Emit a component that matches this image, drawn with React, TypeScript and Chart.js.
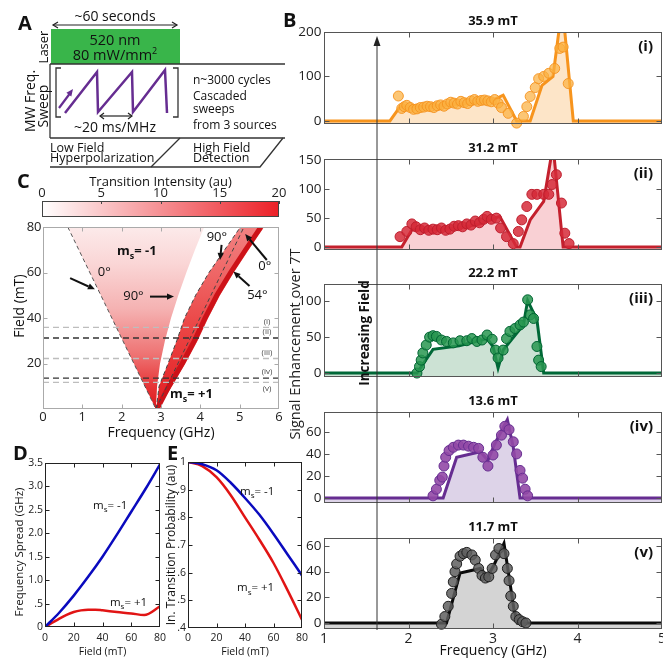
import React, { useEffect, useRef } from 'react';
import { Chart, registerables } from 'chart.js';

Chart.register(...registerables);

const FONT = "'Open Sans', 'DejaVu Sans', sans-serif";
Chart.defaults.font.family = FONT;
Chart.defaults.color = '#222';

// ================= DATA =================
// ---- Panel B : signal enhancement spectra ----
const bTitles = ['35.9 mT', '31.2 mT', '22.2 mT', '13.6 mT', '11.7 mT'];
const bRoman = ['(i)', '(ii)', '(iii)', '(iv)', '(v)'];
const bFreqTicks = [1, 2, 3, 4, 5];
const bYTicks1 = [0, 100, 200];
const bYTicks2 = [0, 50, 100, 150];
const bYTicks3 = [0, 50, 100];
const bYTicks4 = [0, 20, 40, 60];
const bYTicks5 = [0, 20, 40, 60];

const fitFreq1 = [1, 1.78, 1.9, 2.2, 2.5, 2.8, 3.0, 3.12, 3.28, 3.44, 3.58, 3.71, 3.82, 3.95, 5];
const fitVal1 = [0, 0, 32, 33, 36, 40, 47, 58, 0, 0, 80, 100, 260, 0, 0];
const ptFreq1 = [1.88, 1.92, 1.95, 1.98, 2.02, 2.06, 2.1, 2.14, 2.18, 2.22, 2.26, 2.3, 2.34, 2.38, 2.42, 2.46, 2.5, 2.54, 2.58, 2.62, 2.66, 2.7, 2.74, 2.78, 2.82, 2.86, 2.9, 2.94, 2.98, 3.02, 3.06, 3.1, 3.18, 3.28, 3.36, 3.4, 3.44, 3.5, 3.54, 3.6, 3.66, 3.73, 3.79, 3.83, 3.89];
const ptVal1 = [56, 28, 32, 35, 30, 26, 27, 30, 31, 33, 32, 30, 34, 36, 33, 38, 42, 40, 38, 44, 41, 39, 45, 48, 44, 46, 47, 45, 43, 48, 40, 30, 17, -5, 10, 32, 55, 75, 95, 100, 107, 118, 163, 166, 84];

const fitFreq2 = [1, 1.92, 2.04, 2.3, 2.6, 2.85, 3.08, 3.28, 3.32, 3.44, 3.6, 3.71, 3.83, 5];
const fitVal2 = [0, 0, 30, 30, 33, 40, 53, 0, 0, 47, 79, 175, 0, 0];
const ptFreq2 = [1.9, 1.98, 2.04, 2.09, 2.14, 2.19, 2.24, 2.29, 2.34, 2.39, 2.44, 2.49, 2.54, 2.59, 2.64, 2.69, 2.74, 2.79, 2.84, 2.89, 2.93, 2.98, 3.04, 3.09, 3.16, 3.24, 3.3, 3.34, 3.4, 3.46, 3.52, 3.6, 3.66, 3.7, 3.75, 3.81, 3.85, 3.9];
const ptVal2 = [18, 27, 40, 35, 30, 33, 29, 31, 30, 33, 29, 31, 36, 37, 35, 40, 38, 45, 42, 48, 53, 48, 50, 33, 18, 6, 27, 47, 70, 91, 91, 91, 91, 108, 125, 76, 24, 6];

const fitFreq3 = [1, 2.1, 2.29, 2.6, 2.93, 3.0, 3.06, 3.12, 3.36, 3.41, 3.52, 3.6, 5];
const fitVal3 = [0, 0, 33, 38, 48, 37, 7, 32, 67, 101, 74, 0, 0];
const ptFreq3 = [2.1, 2.13, 2.15, 2.17, 2.21, 2.25, 2.29, 2.33, 2.39, 2.45, 2.53, 2.61, 2.69, 2.75, 2.81, 2.87, 2.93, 2.99, 3.03, 3.06, 3.12, 3.16, 3.2, 3.26, 3.32, 3.36, 3.41, 3.44, 3.48, 3.52, 3.54, 3.57];
const ptVal3 = [0, 9, 18, 28, 39, 50, 52, 51, 46, 44, 42, 45, 45, 48, 44, 46, 53, 47, 32, 21, 32, 48, 58, 62, 67, 71, 102, 81, 76, 37, 18, 9];

const fitFreq4 = [1, 2.41, 2.57, 2.85, 2.94, 3.02, 3.17, 3.24, 3.32, 5];
const fitVal4 = [0, 0, 37, 42, 34, 49, 71, 46, 0, 0];
const ptFreq4 = [2.29, 2.33, 2.37, 2.4, 2.42, 2.44, 2.48, 2.53, 2.59, 2.65, 2.71, 2.77, 2.83, 2.88, 2.94, 3.0, 3.04, 3.1, 3.14, 3.19, 3.24, 3.28, 3.32, 3.35, 3.38, 3.41];
const ptVal4 = [2, 8, 16, 19, 29, 37, 43, 46, 48, 48, 47, 46, 45, 37, 29, 39, 48, 57, 65, 62, 51, 40, 25, 18, 8, 2];

const fitFreq5 = [1, 2.45, 2.61, 2.85, 2.93, 3.01, 3.13, 3.25, 3.29, 5];
const fitVal5 = [0, 0, 39, 42.5, 36, 45, 62, 10, 0, 0];
const ptFreq5 = [2.39, 2.43, 2.47, 2.51, 2.53, 2.55, 2.57, 2.61, 2.65, 2.69, 2.75, 2.79, 2.83, 2.87, 2.91, 2.95, 2.99, 3.03, 3.07, 3.13, 3.17, 3.19, 3.21, 3.24, 3.27, 3.31, 3.35, 3.39];
const ptVal5 = [-1, 5, 13, 23, 32, 40, 46, 52, 54, 55, 53, 49, 42.5, 37, 35, 36, 42.5, 53, 58, 54, 42.5, 33, 21, 13, 5, 2.6, 1, 0];

// ---- Panel C : transition map ----
const cFreqTicks = [0, 1, 2, 3, 4, 5, 6];
const cFieldTicks = [0, 20, 40, 60, 80];
const colorbarTicks = [0, 5, 10, 15, 20];
const triFreq = [0.63, 1.19, 1.75, 2.31, 2.87, 2.9, 2.975, 3.1, 3.255, 3.44, 3.645, 3.864, 4.1];
const triField = [80, 60, 40, 20, 0, 10, 20, 30, 40, 50, 60, 70, 80];
const bandFreq = [2.88, 2.95, 3.18, 3.4, 3.6, 3.88, 4.22, 4.62, 5.02, 5.62, 5.23, 4.85, 4.5, 4.2, 3.93, 3.62, 3.28, 2.92];
const bandField = [0, 10, 20, 30, 40, 50, 60, 70, 80, 80, 70, 60, 50, 40, 30, 20, 10, 0];
const stripeFreq = [2.9, 3.2, 3.54, 3.85, 4.12, 4.42, 4.77, 5.15, 5.54];
const stripeField = [0, 10, 20, 30, 40, 50, 60, 70, 80];
const zeroLeftFreq = [0.63, 2.87];
const zeroLeftField = [80, 0];
const ninetyBandFreq = [2.88, 2.95, 3.18, 3.4, 3.6, 3.88, 4.22, 4.62, 5.02];
const ninetyBandField = [0, 10, 20, 30, 40, 50, 60, 70, 80];
const zeroRightFreq = [2.87, 5.11];
const zeroRightField = [0, 80];
const sweepFields = [35.9, 31.2, 22.2, 13.6, 11.7];

// ---- Panel D : frequency spread ----
const fieldTicks = [0, 20, 40, 60, 80];
const dFieldMinus = [0, 10, 20, 30, 40, 50, 60, 70, 80];
const dMinus = [0, 0.31, 0.67, 1.07, 1.5, 1.97, 2.46, 2.95, 3.47];
const dFieldPlus = [0, 5, 10, 15, 20, 25, 30, 35, 40, 50, 60, 69, 80];
const dPlus = [0, 0.09, 0.18, 0.26, 0.32, 0.355, 0.37, 0.37, 0.355, 0.32, 0.29, 0.255, 0.44];
const dYTicks = [0, 0.5, 1, 1.5, 2, 2.5, 3, 3.5];
const dYLabels = ['0', '.5', '1.0', '1.5', '2.0', '2.5', '3.0', '3.5'];

// ---- Panel E : transition probability ----
const eField = [0, 10, 20, 30, 40, 50, 60, 70, 80];
const eMinus = [1, 0.992, 0.97, 0.925, 0.87, 0.81, 0.74, 0.665, 0.59];
const ePlus = [1, 0.985, 0.945, 0.88, 0.8, 0.72, 0.635, 0.535, 0.43];
const eYTicks = [0.4, 0.5, 0.6, 0.7, 0.8, 0.9, 1];
const eYLabels = ['.4', '.5', '.6', '.7', '.8', '.9', '1'];

// ================= HELPERS =================
const xy = (xs: number[], ys: number[]) => xs.map((x, i) => ({ x, y: ys[i] }));

function axisCfg(o: any) {
  const shown = o.display !== false;
  return {
    type: 'linear',
    min: o.min,
    max: o.max,
    display: shown,
    position: o.position,
    afterBuildTicks: (s: any) => {
      s.ticks = o.ticks.map((v: number) => ({ value: v }));
    },
    afterFit: (s: any) => {
      const size = shown ? o.size : 0;
      if (o.axis === 'x') s.height = size;
      else s.width = size;
    },
    grid: { display: false, drawTicks: false },
    border: { display: false },
    ticks: {
      autoSkip: false,
      maxRotation: 0,
      minRotation: 0,
      padding: o.pad,
      color: '#222',
      font: { family: FONT, size: o.fontSize },
      callback: (v: number) => {
        if (o.labels) {
          const i = o.ticks.indexOf(v);
          return i >= 0 ? o.labels[i] : '';
        }
        return String(v);
      },
    },
    title: o.title
      ? {
          display: true,
          text: o.title,
          color: '#111',
          font: { family: FONT, size: o.titleSize, lineHeight: 1 },
          padding: { top: o.titlePad, bottom: o.titlePad },
        }
      : { display: false },
  };
}

function framePlugin(xTicks: number[], yTicks: number[], color: string, len: number) {
  return {
    id: 'frame',
    afterDatasetsDraw(chart: any) {
      const { ctx, chartArea: a, scales } = chart;
      const L = Math.round(a.left) + 0.5;
      const R = Math.round(a.right) - 0.5;
      const T = Math.round(a.top) + 0.5;
      const B = Math.round(a.bottom) - 0.5;
      ctx.save();
      ctx.strokeStyle = color;
      ctx.lineWidth = 1;
      ctx.strokeRect(L, T, R - L, B - T);
      ctx.beginPath();
      for (const v of xTicks) {
        const p = Math.round(scales.x.getPixelForValue(v)) + 0.5;
        if (p <= L + 1 || p >= R - 1) continue;
        ctx.moveTo(p, B);
        ctx.lineTo(p, B - len);
        ctx.moveTo(p, T);
        ctx.lineTo(p, T + len);
      }
      for (const v of yTicks) {
        const p = Math.round(scales.y.getPixelForValue(v)) + 0.5;
        if (p <= T + 1 || p >= B - 1) continue;
        ctx.moveTo(L, p);
        ctx.lineTo(L + len, p);
        ctx.moveTo(R, p);
        ctx.lineTo(R - len, p);
      }
      ctx.stroke();
      ctx.restore();
    },
  };
}

function drawMs(ctx: any, x: number, y: number, rest: string, size: number, bold: boolean) {
  const w = bold ? 'bold ' : '';
  ctx.save();
  ctx.fillStyle = '#111';
  ctx.textAlign = 'left';
  ctx.textBaseline = 'alphabetic';
  ctx.font = `${w}${size}px ${FONT}`;
  ctx.fillText('m', x, y);
  let cx = x + ctx.measureText('m').width;
  ctx.font = `${w}${Math.round(size * 0.7)}px ${FONT}`;
  ctx.fillText('s', cx, y + size * 0.3);
  cx += ctx.measureText('s').width;
  ctx.font = `${w}${size}px ${FONT}`;
  ctx.fillText(rest, cx, y);
  ctx.restore();
}

function arrow(ctx: any, x1: number, y1: number, x2: number, y2: number, head = 7, width = 2) {
  const ang = Math.atan2(y2 - y1, x2 - x1);
  const bx = x2 - head * Math.cos(ang);
  const by = y2 - head * Math.sin(ang);
  ctx.beginPath();
  ctx.moveTo(x1, y1);
  ctx.lineTo(bx, by);
  ctx.lineWidth = width;
  ctx.stroke();
  ctx.beginPath();
  ctx.moveTo(x2, y2);
  ctx.lineTo(bx + head * 0.45 * Math.sin(ang), by - head * 0.45 * Math.cos(ang));
  ctx.lineTo(bx - head * 0.45 * Math.sin(ang), by + head * 0.45 * Math.cos(ang));
  ctx.closePath();
  ctx.fill();
}

// ================= LAYOUT =================
const B_LEFT = 290;
const B_WIDTH = 383;
const B_PLOT_LEFT = 324;
const B_PLOT_RIGHT = 662;
const bLayout = [
  { top: 32, bottom: 124, min: -7, max: 200 },
  { top: 159, bottom: 250, min: -5, max: 152 },
  { top: 284, bottom: 377, min: -5.5, max: 124 },
  { top: 412, bottom: 503, min: -4.5, max: 78 },
  { top: 538, bottom: 629, min: -4.7, max: 66.2 },
];
const bStyle = [
  { line: 'rgb(247,148,29)', fill: 'rgb(253,229,200)', ptFill: 'rgba(251,176,64,0.72)', ptBorder: 'rgba(245,146,30,0.9)' },
  { line: 'rgb(196,32,45)', fill: 'rgb(249,208,212)', ptFill: 'rgba(214,42,56,0.85)', ptBorder: 'rgb(190,30,45)' },
  { line: 'rgb(0,104,55)', fill: 'rgb(204,226,212)', ptFill: 'rgba(40,150,80,0.85)', ptBorder: 'rgb(0,100,50)' },
  { line: 'rgb(102,45,145)', fill: 'rgb(221,211,232)', ptFill: 'rgba(146,73,166,0.9)', ptBorder: 'rgb(102,45,145)' },
  { line: 'rgb(10,10,10)', fill: 'rgb(212,212,212)', ptFill: 'rgba(95,95,95,0.85)', ptBorder: 'rgb(30,30,30)' },
];
const bSeries = [
  { fitF: fitFreq1, fitV: fitVal1, ptF: ptFreq1, ptV: ptVal1, yTicks: bYTicks1 },
  { fitF: fitFreq2, fitV: fitVal2, ptF: ptFreq2, ptV: ptVal2, yTicks: bYTicks2 },
  { fitF: fitFreq3, fitV: fitVal3, ptF: ptFreq3, ptV: ptVal3, yTicks: bYTicks3 },
  { fitF: fitFreq4, fitV: fitVal4, ptF: ptFreq4, ptV: ptVal4, yTicks: bYTicks4 },
  { fitF: fitFreq5, fitV: fitVal5, ptF: ptFreq5, ptV: ptVal5, yTicks: bYTicks5 },
];
const bCanvas = bLayout.map((l, i) => {
  const top = l.top - 24;
  const height = i < 4 ? l.bottom + 12 - top : 658 - top;
  return { top, height };
});

const C_BOX = { left: 0, top: 210, width: 300, height: 230 };
const CB_BOX = { left: 0, top: 165, width: 300, height: 55 };
const D_BOX = { left: 0, top: 445, width: 180, height: 213 };
const E_BOX = { left: 160, top: 445, width: 170, height: 213 };

const cs = (b: any) => ({ position: 'absolute' as const, left: b.left, top: b.top });

export default function App() {
  const bRefs = [
    useRef<HTMLCanvasElement>(null),
    useRef<HTMLCanvasElement>(null),
    useRef<HTMLCanvasElement>(null),
    useRef<HTMLCanvasElement>(null),
    useRef<HTMLCanvasElement>(null),
  ];
  const cRef = useRef<HTMLCanvasElement>(null);
  const cbRef = useRef<HTMLCanvasElement>(null);
  const dRef = useRef<HTMLCanvasElement>(null);
  const eRef = useRef<HTMLCanvasElement>(null);

  useEffect(() => {
    const charts: Chart[] = [];
    const base = {
      animation: false,
      responsive: false,
      events: [],
      plugins: { legend: { display: false }, tooltip: { enabled: false }, title: { display: false } },
    };

    // ---------- Panel B ----------
    bSeries.forEach((s, i) => {
      const L = bLayout[i];
      const st = bStyle[i];
      const cv = bCanvas[i];
      const showX = i === 4;
      const xH = cv.top + cv.height - L.bottom;
      const labels = {
        id: 'bLabels',
        afterDraw(chart: any) {
          const { ctx, chartArea: a } = chart;
          ctx.save();
          ctx.fillStyle = '#111';
          ctx.font = `bold 13px ${FONT}`;
          ctx.textAlign = 'center';
          ctx.textBaseline = 'middle';
          ctx.fillText(bTitles[i], (a.left + a.right) / 2, a.top - 11);
          ctx.font = `bold 15px ${FONT}`;
          ctx.textAlign = 'right';
          ctx.fillText(bRoman[i], a.right - 9, a.top + 15);
          ctx.restore();
        },
      };
      charts.push(
        new Chart(bRefs[i].current as HTMLCanvasElement, {
          type: 'line',
          data: {
            datasets: [
              {
                data: xy(s.ptF, s.ptV),
                showLine: false,
                pointRadius: 5,
                pointBackgroundColor: st.ptFill,
                pointBorderColor: st.ptBorder,
                pointBorderWidth: 1,
                backgroundColor: st.ptFill,
                borderColor: st.ptBorder,
                clip: false,
                order: 0,
              },
              {
                data: xy(s.fitF, s.fitV),
                borderColor: st.line,
                borderWidth: 3,
                backgroundColor: st.fill,
                fill: 'start',
                pointRadius: 0,
                tension: 0,
                order: 1,
              },
            ],
          } as any,
          options: {
            ...base,
            layout: {
              padding: {
                left: 0,
                right: B_LEFT + B_WIDTH - B_PLOT_RIGHT,
                top: L.top - cv.top,
                bottom: showX ? 0 : xH,
              },
            },
            scales: {
              x: axisCfg({
                axis: 'x', min: 1, max: 5, ticks: bFreqTicks, display: showX, size: xH, pad: 1.5, fontSize: 14,
                title: showX ? 'Frequency (GHz)' : undefined, titleSize: 14, titlePad: 0,
              }),
              y: axisCfg({
                axis: 'y', min: L.min, max: L.max, ticks: s.yTicks, size: B_PLOT_LEFT - B_LEFT, pad: 2.5, fontSize: 13.5,
              }),
            },
          } as any,
          plugins: [framePlugin(bFreqTicks, s.yTicks, '#555', 5), labels] as any,
        })
      );
    });

    // ---------- Colorbar ----------
    charts.push(
      new Chart(cbRef.current as HTMLCanvasElement, {
        type: 'bar',
        data: {
          labels: ['intensity'],
          datasets: [
            {
              data: [[0, 20]],
              barPercentage: 1,
              categoryPercentage: 1,
              borderWidth: 0,
              backgroundColor: (c: any) => {
                const a = c.chart.chartArea;
                if (!a) return 'rgba(0,0,0,0)';
                const g = c.chart.ctx.createLinearGradient(a.left, 0, a.right, 0);
                g.addColorStop(0, 'rgb(255,255,255)');
                g.addColorStop(1, 'rgb(236,32,39)');
                return g;
              },
            },
          ],
        } as any,
        options: {
          ...base,
          indexAxis: 'y',
          layout: { padding: { left: 42, right: 21, top: 0, bottom: 3 } },
          scales: {
            x: axisCfg({
              axis: 'x', min: 0, max: 20, ticks: colorbarTicks, position: 'top', size: 36, pad: 0, fontSize: 13,
              title: 'Transition Intensity (au)', titleSize: 13, titlePad: 10.5,
            }),
            y: { type: 'category', display: false },
          },
        } as any,
        plugins: [
          {
            id: 'cbFrame',
            afterDatasetsDraw(chart: any) {
              const { ctx, chartArea: a, scales } = chart;
              ctx.save();
              ctx.strokeStyle = '#444';
              ctx.lineWidth = 1;
              ctx.strokeRect(Math.round(a.left) + 0.5, Math.round(a.top) + 0.5, Math.round(a.right - a.left) - 1, Math.round(a.bottom - a.top) - 1);
              ctx.beginPath();
              for (const v of colorbarTicks) {
                const p = Math.round(scales.x.getPixelForValue(v)) + 0.5;
                ctx.moveTo(p, a.top);
                ctx.lineTo(p, a.top + 3);
              }
              ctx.stroke();
              ctx.restore();
            },
          },
        ] as any,
      })
    );

    // ---------- Panel C ----------
    const triGradient = (c: any) => {
      const ch = c.chart;
      if (!ch.chartArea) return 'rgba(0,0,0,0)';
      const y = ch.scales.y;
      const g = ch.ctx.createLinearGradient(0, y.getPixelForValue(0), 0, y.getPixelForValue(80));
      g.addColorStop(0, 'rgb(222,24,28)');
      g.addColorStop(0.12, 'rgb(230,52,54)');
      g.addColorStop(0.3, 'rgb(238,115,115)');
      g.addColorStop(0.55, 'rgb(245,178,178)');
      g.addColorStop(0.8, 'rgb(250,214,214)');
      g.addColorStop(1, 'rgb(252,234,234)');
      return g;
    };
    const bandGradient = (c: any) => {
      const ch = c.chart;
      if (!ch.chartArea) return 'rgba(0,0,0,0)';
      const y = ch.scales.y;
      const g = ch.ctx.createLinearGradient(0, y.getPixelForValue(0), 0, y.getPixelForValue(80));
      g.addColorStop(0, 'rgb(226,30,34)');
      g.addColorStop(0.4, 'rgb(234,64,64)');
      g.addColorStop(1, 'rgb(242,130,130)');
      return g;
    };
    const fieldLineColor = ['#bdbdbd', '#333333', '#bdbdbd', '#333333', '#bdbdbd'];
    const cDatasets: any[] = [
      { data: xy(triFreq, triField), fill: 'shape', backgroundColor: triGradient, borderWidth: 0, pointRadius: 0, order: 10 },
      { data: xy(bandFreq, bandField), fill: 'shape', backgroundColor: bandGradient, borderWidth: 0, pointRadius: 0, order: 9 },
      { data: xy(stripeFreq, stripeField), fill: false, borderColor: 'rgb(205,18,24)', borderWidth: 5, pointRadius: 0, order: 8 },
      { data: xy(zeroLeftFreq, zeroLeftField), fill: false, borderColor: '#555', borderWidth: 1, borderDash: [4, 3], pointRadius: 0, order: 5 },
      { data: xy(ninetyBandFreq, ninetyBandField), fill: false, borderColor: '#444', borderWidth: 1, borderDash: [4, 3], pointRadius: 0, order: 5 },
      { data: xy(zeroRightFreq, zeroRightField), fill: false, borderColor: '#444', borderWidth: 1, borderDash: [4, 3], pointRadius: 0, order: 5 },
      ...sweepFields.map((f, i) => ({
        data: xy([0, 6], [f, f]),
        fill: false,
        borderColor: fieldLineColor[i],
        borderWidth: 1.3,
        borderDash: [6, 4],
        pointRadius: 0,
        order: 1,
      })),
    ];
    const cAnnot = {
      id: 'cAnnot',
      afterDatasetsDraw(chart: any) {
        const { ctx, chartArea: a, scales } = chart;
        const X = (v: number) => scales.x.getPixelForValue(v);
        const Y = (v: number) => scales.y.getPixelForValue(v);
        ctx.save();
        ctx.font = `8px ${FONT}`;
        ctx.fillStyle = '#444';
        ctx.textAlign = 'center';
        ctx.textBaseline = 'middle';
        sweepFields.forEach((f, i) => {
          ctx.fillText(bRoman[i], a.right - 12, Y(f) + (i === 4 ? 6 : -6));
        });
        ctx.fillStyle = '#111';
        ctx.strokeStyle = '#111';
        ctx.font = `13px ${FONT}`;
        ctx.fillText('0°', X(1.56), Y(60.2));
        ctx.fillText('90°', X(2.3), Y(49.4));
        ctx.fillText('90°', X(4.42), Y(75.5));
        ctx.fillText('0°', X(5.64), Y(62.9));
        ctx.fillText('54°', X(5.45), Y(50.1));
        arrow(ctx, X(0.69), Y(57.5), X(1.32), Y(52.6));
        arrow(ctx, X(2.72), Y(49.4), X(3.33), Y(49.4));
        arrow(ctx, X(4.54), Y(72.1), X(4.5), Y(65.5));
        arrow(ctx, X(5.69), Y(65.5), X(5.14), Y(76.9));
        arrow(ctx, X(5.25), Y(54.1), X(4.84), Y(60.4));
        ctx.restore();
        drawMs(ctx, X(1.88), Y(67.7), '= -1', 13, true);
        drawMs(ctx, X(3.23), Y(4.8), '= +1', 13, true);
      },
    };
    charts.push(
      new Chart(cRef.current as HTMLCanvasElement, {
        type: 'line',
        data: { datasets: cDatasets } as any,
        options: {
          ...base,
          layout: { padding: { left: 0, right: C_BOX.left + C_BOX.width - 279, top: 227 - C_BOX.top, bottom: 0 } },
          scales: {
            x: axisCfg({
              axis: 'x', min: 0, max: 6, ticks: cFreqTicks, size: C_BOX.top + C_BOX.height - 409, pad: 0, fontSize: 13,
              title: 'Frequency (GHz)', titleSize: 14, titlePad: 0,
            }),
            y: axisCfg({
              axis: 'y', min: 0, max: 80, ticks: cFieldTicks, labels: ['', '20', '40', '60', '80'], size: 43, pad: 1.5, fontSize: 13,
            }),
          },
        } as any,
        plugins: [framePlugin(cFreqTicks, cFieldTicks, '#aaa', 4), cAnnot] as any,
      })
    );

    // ---------- Panel D ----------
    charts.push(
      new Chart(dRef.current as HTMLCanvasElement, {
        type: 'line',
        data: {
          datasets: [
            { data: xy(dFieldMinus, dMinus), borderColor: 'rgb(10,10,190)', borderWidth: 2.5, pointRadius: 0, cubicInterpolationMode: 'monotone', fill: false },
            { data: xy(dFieldPlus, dPlus), borderColor: 'rgb(225,20,20)', borderWidth: 2.5, pointRadius: 0, cubicInterpolationMode: 'monotone', fill: false },
          ],
        } as any,
        options: {
          ...base,
          layout: { padding: { left: 0, right: D_BOX.left + D_BOX.width - 160, top: 463 - D_BOX.top, bottom: 0 } },
          scales: {
            x: axisCfg({
              axis: 'x', min: 0, max: 80, ticks: fieldTicks, size: D_BOX.top + D_BOX.height - 627, pad: 4.5, fontSize: 10.5,
              title: 'Field (mT)', titleSize: 10.5, titlePad: 1,
            }),
            y: axisCfg({ axis: 'y', min: 0, max: 3.5, ticks: dYTicks, labels: dYLabels, size: 45 - D_BOX.left, pad: 2, fontSize: 10.5 }),
          },
        } as any,
        plugins: [
          framePlugin(fieldTicks, dYTicks, '#222', 4),
          {
            id: 'dLabels',
            afterDatasetsDraw(chart: any) {
              const { ctx, scales } = chart;
              drawMs(ctx, scales.x.getPixelForValue(33.4), scales.y.getPixelForValue(2.52), '= -1', 11.5, false);
              drawMs(ctx, scales.x.getPixelForValue(45.2), scales.y.getPixelForValue(0.45), '= +1', 11.5, false);
            },
          },
        ] as any,
      })
    );

    // ---------- Panel E ----------
    charts.push(
      new Chart(eRef.current as HTMLCanvasElement, {
        type: 'line',
        data: {
          datasets: [
            { data: xy(eField, eMinus), borderColor: 'rgb(10,10,190)', borderWidth: 2.5, pointRadius: 0, cubicInterpolationMode: 'monotone', fill: false },
            { data: xy(eField, ePlus), borderColor: 'rgb(225,20,20)', borderWidth: 2.5, pointRadius: 0, cubicInterpolationMode: 'monotone', fill: false },
          ],
        } as any,
        options: {
          ...base,
          layout: { padding: { left: 0, right: E_BOX.left + E_BOX.width - 302, top: 462 - E_BOX.top, bottom: 0 } },
          scales: {
            x: axisCfg({
              axis: 'x', min: 0, max: 80, ticks: fieldTicks, size: E_BOX.top + E_BOX.height - 628, pad: 3.7, fontSize: 10.5,
              title: 'Field (mT)', titleSize: 10.5, titlePad: 1,
            }),
            y: axisCfg({ axis: 'y', min: 0.4, max: 1, ticks: eYTicks, labels: eYLabels, size: 188 - E_BOX.left, pad: 2, fontSize: 10.5 }),
          },
        } as any,
        plugins: [
          framePlugin(fieldTicks, eYTicks, '#222', 4),
          {
            id: 'eLabels',
            afterDatasetsDraw(chart: any) {
              const { ctx, scales } = chart;
              drawMs(ctx, scales.x.getPixelForValue(36.5), scales.y.getPixelForValue(0.882), '= -1', 11.5, false);
              drawMs(ctx, scales.x.getPixelForValue(34.4), scales.y.getPixelForValue(0.532), '= +1', 11.5, false);
            },
          },
        ] as any,
      })
    );

    return () => charts.forEach((c) => c.destroy());
  }, []);

  const purple = 'rgb(102,45,145)';
  return (
    <div style={{ position: 'absolute', left: 0, top: 0, width: 663, height: 658, overflow: 'hidden', background: '#fff' }}>
      {bCanvas.map((cv, i) => (
        <canvas key={i} ref={bRefs[i]} width={B_WIDTH} height={cv.height} style={{ position: 'absolute', left: B_LEFT, top: cv.top }} />
      ))}
      <canvas ref={cbRef} width={CB_BOX.width} height={CB_BOX.height} style={cs(CB_BOX)} />
      <canvas ref={cRef} width={C_BOX.width} height={C_BOX.height} style={cs(C_BOX)} />
      <canvas ref={eRef} width={E_BOX.width} height={E_BOX.height} style={cs(E_BOX)} />
      <canvas ref={dRef} width={D_BOX.width} height={D_BOX.height} style={cs(D_BOX)} />
      <svg width={663} height={658} style={{ position: 'absolute', left: 0, top: 0, pointerEvents: 'none' }} fontFamily={FONT} fill="#111">
        {/* Panel letters */}
        <text x={18} y={30} fontSize={20} fontWeight="bold">A</text>
        <text x={283} y={27} fontSize={20} fontWeight="bold">B</text>
        <text x={17} y={188} fontSize={20} fontWeight="bold">C</text>
        <text x={13} y={460} fontSize={20} fontWeight="bold">D</text>
        <text x={167} y={460} fontSize={20} fontWeight="bold">E</text>

        {/* Panel A diagram */}
        <text x={115} y={21} fontSize={14} textAnchor="middle">~60 seconds</text>
        <g stroke="#222" strokeWidth={1.2} fill="none">
          <line x1={53} y1={25} x2={177} y2={25} />
          <polyline points="58,22 53,25 58,28" />
          <polyline points="172,22 177,25 172,28" />
        </g>
        <rect x={51} y={29} width={129} height={35} fill="rgb(57,181,74)" />
        <text x={115} y={45} fontSize={14.5} textAnchor="middle">520 nm</text>
        <text x={115} y={60} fontSize={14.5} textAnchor="middle">
          80 mW/mm<tspan dy={-6} fontSize={9}>2</tspan>
        </text>
        <g stroke="#333" strokeWidth={1.3} fill="none">
          <line x1={50} y1={64} x2={285} y2={64} />
          <line x1={50} y1={64} x2={50} y2={138} />
          <line x1={50} y1={138} x2={285} y2={138} />
          <polyline points="50,167 260,167 283,138" />
          <line x1={151} y1={167} x2={180} y2={138} />
          <polyline points="61,68 56,68 56,117 61,117" />
          <polyline points="173,68 178,68 178,117 173,117" />
        </g>
        <text transform="translate(43,47) rotate(-90)" fontSize={13} textAnchor="middle" dominantBaseline="central">Laser</text>
        <text transform="translate(29,101) rotate(-90)" fontSize={14} textAnchor="middle" dominantBaseline="central">MW Freq.</text>
        <text transform="translate(42,106) rotate(-90)" fontSize={14} textAnchor="middle" dominantBaseline="central">Sweep</text>
        <polyline points="65,113 97,72 98,112 132,72 133,112 165,70 167,113" stroke={purple} strokeWidth={2.5} fill="none" />
        <line x1={59} y1={108} x2={69.5} y2={94} stroke={purple} strokeWidth={2.2} />
        <polygon points="73,89 71.3,96.4 66.4,92.8" fill={purple} />
        <g stroke="#222" strokeWidth={1.2} fill="none">
          <line x1={100} y1={116} x2={132} y2={116} />
          <polyline points="104,113 100,116 104,119" />
          <polyline points="128,113 132,116 128,119" />
        </g>
        <text x={115} y={132} fontSize={14} textAnchor="middle">~20 ms/MHz</text>
        <text x={193} y={84} fontSize={12}>n~3000 cycles</text>
        <text x={193} y={100} fontSize={12}>Cascaded</text>
        <text x={193} y={113} fontSize={12}>sweeps</text>
        <text x={193} y={129} fontSize={12}>from 3 sources</text>
        <text x={50} y={152} fontSize={12.5}>Low Field</text>
        <text x={50} y={162} fontSize={12.5}>Hyperpolarization</text>
        <text x={193} y={152} fontSize={12.5}>High Field</text>
        <text x={193} y={162} fontSize={12.5}>Detection</text>

        {/* Axis titles */}
        <text transform="translate(18,306) rotate(-90)" fontSize={14} textAnchor="middle" dominantBaseline="central">Field (mT)</text>
        <text transform="translate(18,552) rotate(-90)" fontSize={11.5} textAnchor="middle" dominantBaseline="central">Frequency Spread (GHz)</text>
        <text transform="translate(170,545) rotate(-90)" fontSize={12} textAnchor="middle" dominantBaseline="central">In. Transition Probability (au)</text>
        <text transform="translate(294,344) rotate(-90)" fontSize={14.5} textAnchor="middle" dominantBaseline="central" fill="#222">Signal Enhancement over 7T</text>

        {/* Increasing field arrow */}
        <line x1={377} y1={44} x2={377} y2={630} stroke="#333" strokeWidth={1} />
        <polygon points="377,36 373.5,46 380.5,46" fill="#222" />
        <text transform="translate(364,333) rotate(-90)" fontSize={13.5} fontWeight="bold" textAnchor="middle" dominantBaseline="central">Increasing Field</text>
      </svg>
    </div>
  );
}
